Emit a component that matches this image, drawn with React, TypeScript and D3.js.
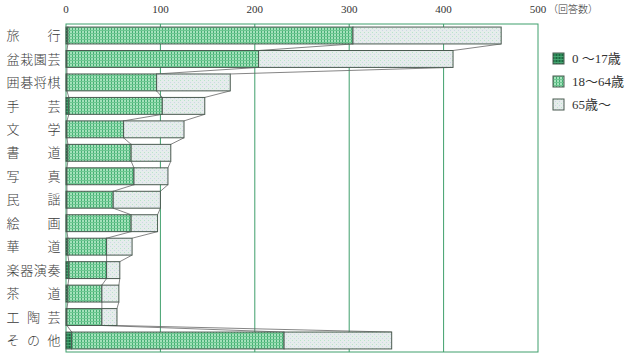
import * as d3 from "d3";

const categories = ["旅行", "盆栽園芸", "囲碁将棋", "手芸", "文学", "書道", "写真", "民謡", "絵画", "華道", "楽器演奏", "茶道", "工陶芸", "その他"];
const age0to17 = [2, 1, 1, 3, 1, 2, 1, 1, 1, 2, 3, 2, 1, 6];
const age18to64 = [302, 203, 95, 99, 60, 67, 71, 49, 68, 41, 40, 36, 37, 225];
const age65plus = [157, 206, 78, 45, 64, 42, 36, 50, 28, 27, 14, 18, 16, 114];
const seriesNames = ["0 ～17歳", "18～64歳", "65歳～"];
const xTicks = [0, 100, 200, 300, 400, 500];

const width = 636;
const height = 358;
const left = 66;
const right = 538;
const top = 24;
const bottom = 352;

const serif = "'Liberation Serif', 'DejaVu Serif', 'Noto Sans CJK JP', serif";
const jp = "'Noto Sans CJK JP', 'Liberation Serif', serif";
const green = "#3f9f6c";
const edge = "#4a5a50";

const fills = ["url(#p017)", "url(#p1864)", "url(#p65)"];

export default function App() {
  const x = d3.scaleLinear().domain([0, 500]).range([left, right]);
  const y = d3.scaleBand<string>().domain(categories).range([top, bottom]).paddingInner(0.28).paddingOuter(0.13);
  const bw = y.bandwidth();

  const series = [age0to17, age18to64, age65plus];
  const stacked = categories.map((_, i) => {
    let acc = 0;
    return series.map((s) => {
      const x0 = acc;
      acc += s[i];
      return [x0, acc];
    });
  });

  // 系列線 (segment ends joined between neighbouring bars)
  const links: { x1: number; y1: number; x2: number; y2: number }[] = [];
  for (let i = 0; i < categories.length - 1; i++) {
    for (let k = 0; k < 3; k++) {
      links.push({
        x1: x(stacked[i][k][1]),
        y1: (y(categories[i]) ?? 0) + bw,
        x2: x(stacked[i + 1][k][1]),
        y2: y(categories[i + 1]) ?? 0,
      });
    }
  }

  return (
    <svg width={width} height={height} style={{ position: "absolute", left: 0, top: 0, background: "#fff" }}>
      <defs>
        <pattern id="p017" width="3" height="3" patternUnits="userSpaceOnUse">
          <rect width="3" height="3" fill="#2c8756" />
          <rect width="1" height="3" fill="#1d6540" />
          <rect width="3" height="1" fill="#45a571" />
        </pattern>
        <pattern id="p1864" width="3" height="3" patternUnits="userSpaceOnUse">
          <rect width="3" height="3" fill="#a4e2bb" />
          <rect width="1" height="3" fill="#45ad74" />
          <rect width="3" height="1" fill="#6cc790" />
        </pattern>
        <pattern id="p65" width="4" height="4" patternUnits="userSpaceOnUse">
          <rect width="4" height="4" fill="#e6ecec" />
          <rect x="0" y="0" width="1" height="1" fill="#b8e6c8" />
          <rect x="2" y="2" width="1" height="1" fill="#cbd8e4" />
        </pattern>
      </defs>

      {/* frame and grid */}
      <rect x={left} y={top} width={right - left} height={bottom - top} fill="none" stroke={green} strokeWidth={1} />
      {xTicks.slice(1, -1).map((t) => (
        <line key={t} x1={x(t)} x2={x(t)} y1={top} y2={bottom} stroke={green} strokeWidth={1} />
      ))}

      {/* tick labels */}
      {xTicks.map((t) => (
        <text key={t} x={x(t)} y={13} textAnchor="middle" fontFamily={serif} fontSize={11} fill="#333">
          {t}
        </text>
      ))}
      <text x={x(500) + 10} y={13} fontFamily={jp} fontWeight={300} fontSize={10} fill="#333">
        （回答数）
      </text>

      {/* series lines */}
      {links.map((l, i) => (
        <line key={i} x1={l.x1} y1={l.y1} x2={l.x2} y2={l.y2} stroke="#666" strokeWidth={0.8} />
      ))}

      {/* bars */}
      {categories.map((c, i) => (
        <g key={c}>
          {stacked[i].map(([a, b], k) => (
            <rect
              key={k}
              x={x(a)}
              y={y(c)}
              width={Math.max(0, x(b) - x(a))}
              height={bw}
              fill={fills[k]}
              stroke={edge}
              strokeWidth={1}
            />
          ))}
        </g>
      ))}

      {/* category labels, characters spread out */}
      {categories.map((c) => {
        const chars = Array.from(c);
        const cy = (y(c) ?? 0) + bw / 2;
        const pos = d3.scaleLinear().domain([0, Math.max(1, chars.length - 1)]).range([13, 54]);
        return chars.map((ch, j) => (
          <text
            key={c + j}
            x={pos(j)}
            y={cy}
            dy="0.36em"
            textAnchor="middle"
            fontFamily={jp}
            fontWeight={300}
            fontSize={13}
            fill="#3a3a3a"
          >
            {ch}
          </text>
        ));
      })}

      {/* legend */}
      {seriesNames.map((n, k) => (
        <g key={n} transform={`translate(553, ${53 + k * 23})`}>
          <rect width={11} height={11} fill={fills[k]} stroke={edge} strokeWidth={1} />
          <text x={19} y={5.5} dy="0.36em" fontFamily={serif} fontSize={13} fill="#333">
            {n}
          </text>
        </g>
      ))}
    </svg>
  );
}
